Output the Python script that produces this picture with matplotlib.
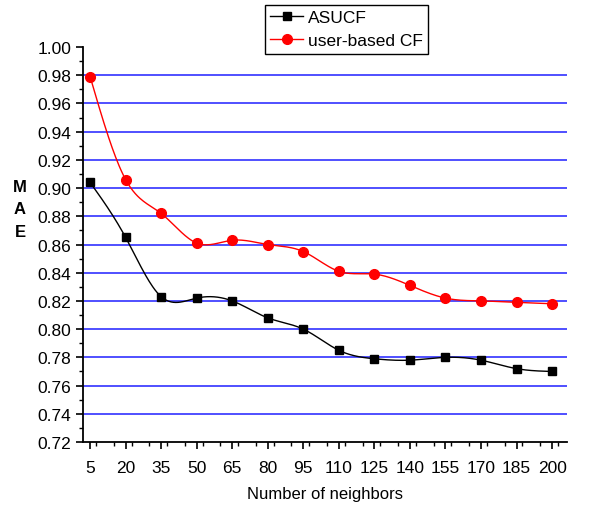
import numpy as np
import matplotlib
matplotlib.use('Agg')
import matplotlib.pyplot as plt
from matplotlib.ticker import MultipleLocator

plt.rcParams['font.family'] = ['Liberation Sans', 'DejaVu Sans']

neighbors = [5, 20, 35, 50, 65, 80, 95, 110, 125, 140, 155, 170, 185, 200]
asucf = [0.904, 0.865, 0.823, 0.822, 0.820, 0.808, 0.800, 0.785, 0.779, 0.778, 0.780, 0.778, 0.772, 0.770]
user_cf = [0.979, 0.906, 0.882, 0.861, 0.863, 0.860, 0.855, 0.841, 0.839, 0.831, 0.822, 0.820, 0.819, 0.818]


def spline(x, y, n=400):
    # natural cubic spline, just for the smooth connecting line
    x = np.asarray(x, float)
    y = np.asarray(y, float)
    k = len(x)
    h = np.diff(x)
    A = np.zeros((k, k))
    r = np.zeros(k)
    A[0, 0] = A[-1, -1] = 1
    for i in range(1, k - 1):
        A[i, i - 1] = h[i - 1]
        A[i, i] = 2 * (h[i - 1] + h[i])
        A[i, i + 1] = h[i]
        r[i] = 3 * ((y[i + 1] - y[i]) / h[i] - (y[i] - y[i - 1]) / h[i - 1])
    c = np.linalg.solve(A, r)
    xs = np.linspace(x[0], x[-1], n)
    idx = np.clip(np.searchsorted(x, xs) - 1, 0, k - 2)
    dx = xs - x[idx]
    b = (y[1:] - y[:-1]) / h - h * (2 * c[:-1] + c[1:]) / 3
    d = (c[1:] - c[:-1]) / (3 * h)
    ys = y[idx] + b[idx] * dx + c[idx] * dx**2 + d[idx] * dx**3
    return xs, ys


fig = plt.figure(figsize=(5.9, 5.06), dpi=100)
ax = fig.add_axes([83/590, 1-443/506, (567-83)/590, (443-48)/506])

for yv in np.arange(0.74, 0.99, 0.02):
    ax.axhline(yv, color='#1f1fff', lw=1.1, zorder=1)

xs, ys = spline(neighbors, asucf)
ax.plot(xs, ys, color='black', lw=1, zorder=2)
xs, ys = spline(neighbors, user_cf)
ax.plot(xs, ys, color='red', lw=1, zorder=2)
ax.plot(neighbors, asucf, 's', color='black', ms=6, zorder=3)
ax.plot(neighbors, user_cf, 'o', color='red', ms=7, zorder=3)

h1, = ax.plot([], [], 's-', color='black', ms=6, lw=1, label='ASUCF')
h2, = ax.plot([], [], 'o-', color='red', ms=7, lw=1, label='user-based CF')

ax.set_xlim(2, 206.3)
ax.set_ylim(0.72, 1.00)
ax.set_xticks(neighbors)
ax.xaxis.set_minor_locator(MultipleLocator(7.5))
ax.yaxis.set_major_locator(MultipleLocator(0.02))
ax.yaxis.set_minor_locator(MultipleLocator(0.01))
ax.yaxis.set_major_formatter(matplotlib.ticker.FormatStrFormatter('%.2f'))
ax.tick_params(which='major', direction='out', length=5, width=1.2, labelsize=12.5, colors='black')
ax.tick_params(which='minor', direction='out', length=3, width=1)
ax.tick_params(axis='x', pad=8)
for s in ['top', 'right']:
    ax.spines[s].set_visible(False)
for s in ['left', 'bottom']:
    ax.spines[s].set_linewidth(1.3)

ax.set_xlabel('Number of neighbors', fontsize=12, labelpad=8)
fig.text(20/590, 1-210/506, 'M\nA\nE', fontsize=12, fontweight='bold', ha='center', va='center',
         linespacing=1.6)

leg = fig.legend(handles=[h1, h2], loc='upper left', bbox_to_anchor=(265/590, 1-6/506),
                 bbox_transform=fig.transFigure, borderaxespad=0, fancybox=False,
                 fontsize=12.5, handlelength=1.9, handletextpad=0.3, borderpad=0.3,
                 labelspacing=0.45, framealpha=1)
leg.get_frame().set_edgecolor('black')
leg.get_frame().set_linewidth(1)

fig.savefig('out.png', dpi=100)
plt.close()
